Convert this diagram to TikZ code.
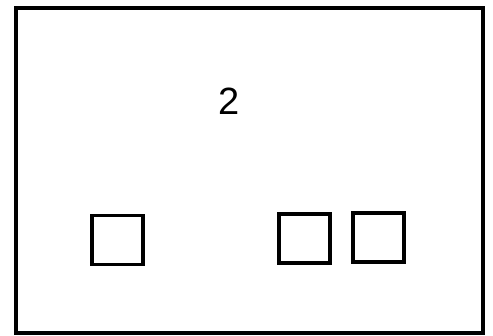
\documentclass[tikz,border=0pt]{standalone}
\usepackage{fontspec}
\setmainfont{Liberation Sans}
\usetikzlibrary{positioning}
\tikzset{
  frame/.style={rectangle, draw, line width=3.6pt, minimum width=467pt,
                minimum height=325pt, inner sep=0pt},
  sq/.style={rectangle, draw, line width=3.2pt, minimum width=51pt,
             minimum height=49pt, inner sep=0pt},
  num/.style={font=\fontsize{38}{40}\selectfont, inner sep=0pt},
}
\begin{document}
\begin{tikzpicture}[x=1pt, y=-1pt]
  \useasboundingbox (0,0) rectangle (493,336);
  \node[frame] (fr) at (249.5,170.5) {};
  \node[num] (lbl) at (229,101) {2};
  \node[sq] (sqa) at (117.5,240) {};
  \node[sq] (sqb) at (304.5,238.5) {};
  \node[sq] (sqc) at (378.5,237.5) {};
\end{tikzpicture}
\end{document}
